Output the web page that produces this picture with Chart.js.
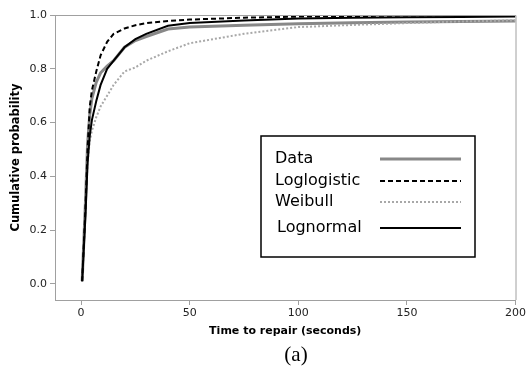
<!DOCTYPE html>
<html><head><meta charset="utf-8">
<script src="https://cdn.jsdelivr.net/npm/chart.js@4.4.1/dist/chart.umd.min.js"></script>
<style>html,body{margin:0;padding:0;background:#fff}#wrap{width:528px;height:369px}</style>
</head><body><div id="wrap"><canvas id="c" width="528" height="369"></canvas></div>
<script>
const timeX       = [0.5, 2, 3, 4, 5, 7, 9, 12, 15, 20, 25, 30, 40, 50, 75, 100, 125, 150, 175, 200];
const dataY       = [0.01, 0.30, 0.52, 0.63, 0.69, 0.75, 0.785, 0.81, 0.83, 0.88, 0.905, 0.92, 0.948, 0.955, 0.962, 0.967, 0.971, 0.974, 0.976, 0.978];
const loglogY     = [0.01, 0.28, 0.50, 0.66, 0.72, 0.79, 0.85, 0.90, 0.93, 0.95, 0.962, 0.97, 0.978, 0.983, 0.99, 0.994, 0.996, 0.998, 0.999, 1.0];
const weibullY    = [0.01, 0.27, 0.45, 0.53, 0.57, 0.62, 0.66, 0.70, 0.74, 0.79, 0.805, 0.83, 0.865, 0.895, 0.93, 0.955, 0.963, 0.97, 0.976, 0.98];
const lognormalY  = [0.01, 0.25, 0.45, 0.55, 0.61, 0.68, 0.74, 0.80, 0.83, 0.88, 0.91, 0.93, 0.96, 0.97, 0.98, 0.987, 0.99, 0.992, 0.993, 0.994];
const seriesNames = ['Data', 'Loglogistic', 'Weibull', 'Lognormal'];
const xTicks = [0, 50, 100, 150, 200];
const yTicks = [0.0, 0.2, 0.4, 0.6, 0.8, 1.0];

const pts = ys => timeX.map((x, i) => ({x, y: ys[i]}));
const FONT = "'DejaVu Sans', Verdana, sans-serif";

const legendBox = {
  id: 'legendBox',
  afterDraw(chart) {
    const ctx = chart.ctx, a = chart.chartArea;
    ctx.save();
    ctx.strokeStyle = '#a0a0a0'; ctx.lineWidth = 1;
    ctx.beginPath();
    ctx.moveTo(a.left, a.top + 0.5); ctx.lineTo(a.right + 0.5, a.top + 0.5); ctx.lineTo(a.right + 0.5, a.bottom);
    ctx.stroke();
    const L = 261, T = 136, R = 475, B = 257;
    ctx.strokeStyle = '#000'; ctx.lineWidth = 1.5;
    ctx.strokeRect(L, T, R - L, B - T);
    const rows = [159, 181, 202, 228];
    const tx = [275, 275, 275, 277];
    ctx.font = '16px ' + FONT; ctx.fillStyle = '#000'; ctx.textBaseline = 'middle'; ctx.textAlign = 'left';
    chart.data.datasets.forEach((ds, i) => {
      ctx.fillText(ds.label, tx[i], rows[i]);
      ctx.beginPath();
      ctx.strokeStyle = ds.borderColor; ctx.lineWidth = ds.borderWidth;
      ctx.setLineDash(ds.borderDash || []);
      ctx.moveTo(380, rows[i]); ctx.lineTo(461, rows[i]);
      ctx.stroke();
      ctx.setLineDash([]);
    });
    ctx.font = "21px 'Liberation Serif', 'Times New Roman', serif";
    ctx.textAlign = 'center'; ctx.fillStyle = '#000';
    ctx.fillText('(a)', 296, 355);
    ctx.restore();
  }
};

new Chart(document.getElementById('c'), {
  type: 'line',
  data: {
    datasets: [
      {label: seriesNames[0], data: pts(dataY), borderColor: '#888', borderWidth: 3, borderDash: [], order: 4},
      {label: seriesNames[1], data: pts(loglogY), borderColor: '#000', borderWidth: 2, borderDash: [5, 3], order: 1},
      {label: seriesNames[2], data: pts(weibullY), borderColor: '#a8a8a8', borderWidth: 2, borderDash: [2, 2], order: 3},
      {label: seriesNames[3], data: pts(lognormalY), borderColor: '#000', borderWidth: 2, borderDash: [], order: 2}
    ]
  },
  options: {
    responsive: false, animation: false, devicePixelRatio: 1,
    layout: {padding: {top: 15, right: 11, bottom: 31, left: 0}},
    elements: {point: {radius: 0}, line: {tension: 0, fill: false}},
    plugins: {legend: {display: false}, tooltip: {enabled: false}},
    scales: {
      x: {
        type: 'linear', min: -12, max: 200,
        afterBuildTicks: s => { s.ticks = xTicks.map(v => ({value: v})); },
        afterFit: s => { s.height = 38; },
        grid: {drawOnChartArea: false, tickLength: 5, color: '#a0a0a0'},
        border: {color: '#a0a0a0'},
        ticks: {font: {family: FONT, size: 11}, color: '#222', padding: 2, maxRotation: 0},
        title: {display: true, text: 'Time to repair (seconds)', font: {family: FONT, size: 11, weight: 'bold'}, color: '#000', padding: {top: 2, bottom: 0}}
      },
      y: {
        type: 'linear', min: -0.06, max: 1.0,
        afterBuildTicks: s => { s.ticks = yTicks.map(v => ({value: v})); },
        afterFit: s => { s.width = 55; },
        grid: {drawOnChartArea: false, tickLength: 5, color: '#a0a0a0'},
        border: {color: '#a0a0a0'},
        ticks: {font: {family: FONT, size: 11}, color: '#222', padding: 3, callback: v => Number(v).toFixed(1)},
        title: {display: true, text: 'Cumulative probability', font: {family: FONT, size: 11.5, weight: 'bold'}, color: '#000', padding: {top: 9, bottom: 2}}
      }
    }
  },
  plugins: [legendBox]
});
</script></body></html>
